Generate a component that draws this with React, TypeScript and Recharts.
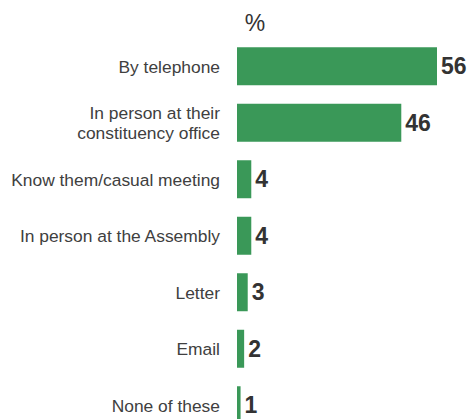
import React from "react";
import { BarChart, Bar, XAxis, YAxis, LabelList } from "recharts";

const categories = [
  "By telephone",
  "In person at their\nconstituency office",
  "Know them/casual meeting",
  "In person at the Assembly",
  "Letter",
  "Email",
  "None of these",
];
const values = [56, 46, 4, 4, 3, 2, 1];
const unitLabel = "%";

const data = categories.map((c, i) => ({ name: c, value: values[i] }));

const FONT = "'Liberation Sans', Arial, sans-serif";

const CategoryTick = (props: any) => {
  const { x, y, payload } = props;
  const lines = String(payload.value).split("\n");
  const lh = 20;
  const start = -((lines.length - 1) * lh) / 2;
  return (
    <text
      x={x}
      y={y}
      textAnchor="end"
      fill="#404040"
      fontSize={17.4}
      fontFamily={FONT}
    >
      {lines.map((l, i) => (
        <tspan key={i} x={x} dy={i === 0 ? start : lh} dominantBaseline="central">
          {l}
        </tspan>
      ))}
    </text>
  );
};

export default function App() {
  return (
    <div
      style={{
        position: "absolute",
        left: 0,
        top: 0,
        width: 470,
        height: 419,
        overflow: "hidden",
        background: "#fff",
      }}
    >
      <svg
        width={470}
        height={45}
        style={{ position: "absolute", left: 0, top: 0 }}
      >
        <text
          x={255}
          y={31}
          textAnchor="middle"
          fontSize={23}
          fontFamily={FONT}
          fill="#333"
        >
          {unitLabel}
        </text>
      </svg>
      <BarChart
        width={470}
        height={440}
        data={data}
        layout="vertical"
        margin={{ top: 38.25, bottom: 6.25, left: 0, right: 33 }}
      >
        <XAxis type="number" domain={[0, 56]} hide />
        <YAxis
          type="category"
          dataKey="name"
          width={237}
          axisLine={false}
          tickLine={false}
          tickSize={0}
          tickMargin={17}
          interval={0}
          tick={<CategoryTick />}
        />
        <Bar
          dataKey="value"
          fill="#3A9858"
          barSize={38}
          isAnimationActive={false}
        >
          <LabelList
            dataKey="value"
            position="right"
            offset={4}
            fill="#333"
            fontSize={23}
            fontWeight="bold"
            fontFamily={FONT}
          />
        </Bar>
      </BarChart>
    </div>
  );
}
